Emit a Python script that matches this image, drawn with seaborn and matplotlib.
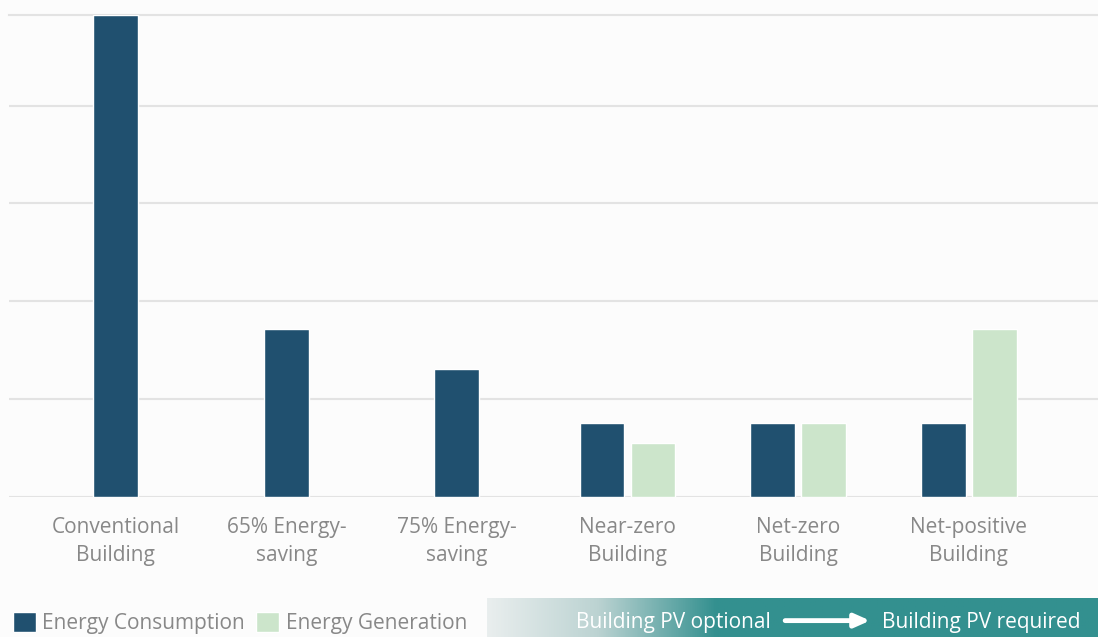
import matplotlib

matplotlib.use("Agg")
import matplotlib.pyplot as plt
import numpy as np
import pandas as pd
import seaborn as sns
from matplotlib.colors import LinearSegmentedColormap

categories = [
    "Conventional\nBuilding",
    "65% Energy-\nsaving",
    "75% Energy-\nsaving",
    "Near-zero\nBuilding",
    "Net-zero\nBuilding",
    "Net-positive\nBuilding",
]
consumption = [4.93, 1.72, 1.31, 0.76, 0.76, 0.76]
generation = [np.nan, np.nan, np.nan, 0.55, 0.76, 1.72]
series_names = ["Energy Consumption", "Energy Generation"]
band_left = "Building PV optional"
band_right = "Building PV required"

dark_blue = "#20506f"
light_green = "#cce5cb"
teal = "#33908f"
text_grey = "#888888"
grid_grey = "#e3e3e3"
bg = "#fcfcfc"
fs = 15

df = pd.DataFrame({
    "category": categories * 2,
    "series": [series_names[0]] * len(categories) + [series_names[1]] * len(categories),
    "value": consumption + generation,
})
single = df[df["category"].isin(categories[:3]) & (df["series"] == series_names[0])]
paired = df[df["category"].isin(categories[3:])]

sns.set_style("white")
plt.rcParams["font.family"] = ["Open Sans", "DejaVu Sans"]

fig = plt.figure(figsize=(10.98, 6.37), dpi=100, facecolor=bg)
ax = fig.add_axes([9 / 1098, 140 / 637, 1089 / 1098, 482.5 / 637])
ax.set_facecolor(bg)

sns.barplot(data=single, x="category", y="value", order=categories, color=dark_blue,
            width=0.264, saturation=1, ax=ax, zorder=3)
sns.barplot(data=paired, x="category", y="value", hue="series", hue_order=series_names,
            order=categories, palette=[dark_blue, light_green], width=0.598, gap=0.12,
            saturation=1, ax=ax, zorder=3)

ax.set_xlim(-0.626, 5.758)
ax.set_ylim(0, max(consumption))
ax.set_yticks(range(0, 5))
ax.yaxis.grid(True, color=grid_grey, linewidth=1.5, zorder=0)
ax.tick_params(axis="y", left=False, labelleft=False)
ax.tick_params(axis="x", bottom=False, pad=11, labelsize=fs, labelcolor=text_grey)
for lbl in ax.get_xticklabels():
    lbl.set_linespacing(1.4)
ax.set_xlabel("")
ax.set_ylabel("")
for side in ["left", "right", "bottom"]:
    ax.spines[side].set_visible(False)
ax.spines["top"].set_color(grid_grey)
ax.spines["top"].set_linewidth(1.5)

handles, labels = ax.get_legend_handles_labels()
ax.legend_.remove()
fig.legend(handles, labels, loc="lower left", bbox_to_anchor=(13 / 1098, 3 / 637), ncol=2,
           frameon=False, fontsize=fs, labelcolor=text_grey, handlelength=1.1,
           handleheight=1.1, handletextpad=0.3, columnspacing=0.55, borderpad=0,
           borderaxespad=0)

# gradient band
band = fig.add_axes([487 / 1098, 0, 611 / 1098, 39 / 637])
cmap = LinearSegmentedColormap.from_list("band", [(0, "#e9eeee"), (0.18, "#bcd3d2"),
                                                  (0.375, teal), (1, teal)])
band.imshow(np.linspace(0, 1, 256).reshape(1, -1), aspect="auto", cmap=cmap,
            extent=[0, 1, 0, 1])
band.set_axis_off()
band.text(0.464, 0.37, band_left, color="white", fontsize=fs, ha="right", va="center",
          transform=band.transAxes)
band.text(0.972, 0.37, band_right, color="white", fontsize=fs, ha="right", va="center",
          transform=band.transAxes)
band.annotate("", xy=(0.627, 0.42), xytext=(0.488, 0.42), xycoords="axes fraction",
              textcoords="axes fraction",
              arrowprops=dict(arrowstyle="-|>,head_length=0.9,head_width=0.4", color="white",
                              lw=3.5, shrinkA=0, shrinkB=0))

fig.savefig("out.png", dpi=100, facecolor=bg)
